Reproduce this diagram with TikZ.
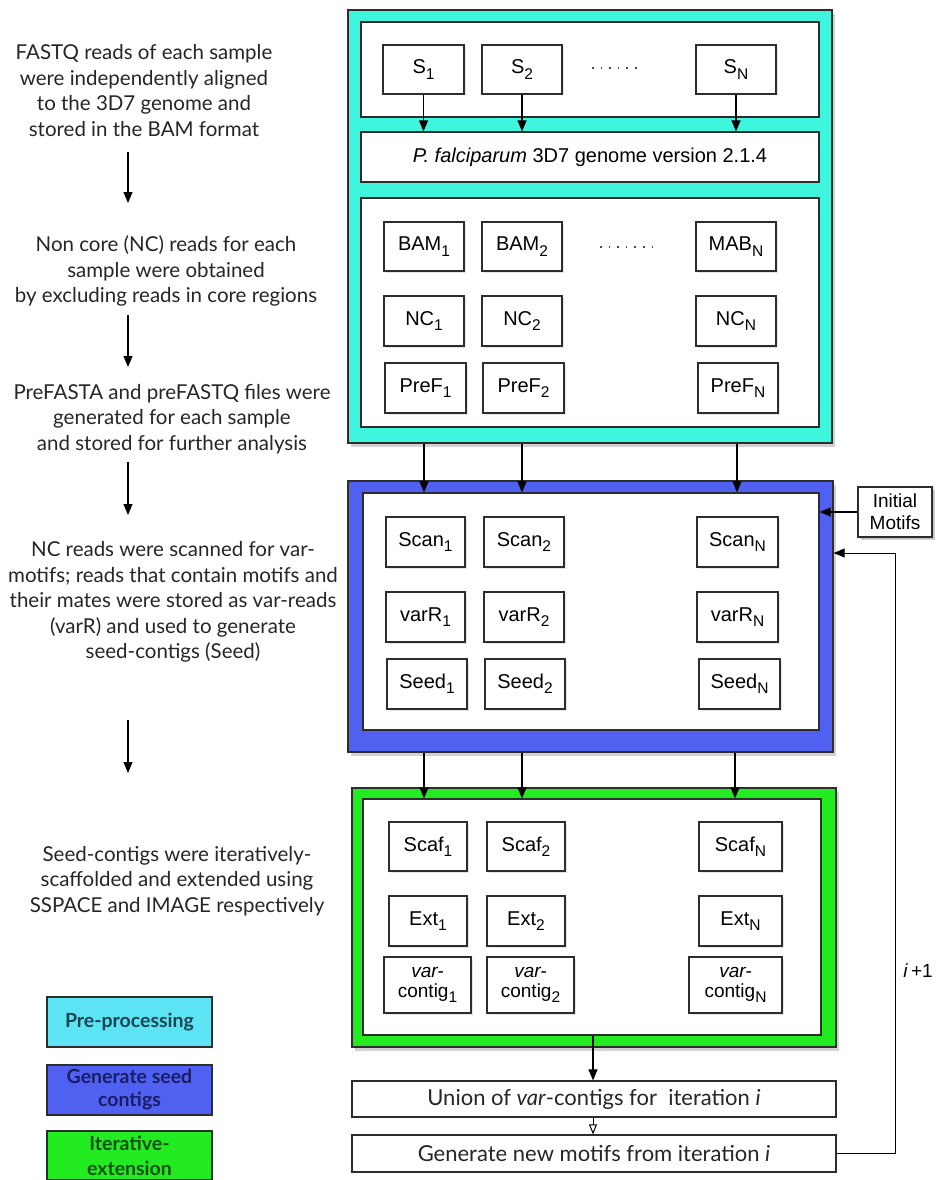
\documentclass[tikz,border=0pt]{standalone}
\usepackage{fontspec}
\setmainfont{Liberation Sans}
\newfontfamily\gill{Lato}
\usetikzlibrary{arrows.meta,shadows}
\definecolor{cyanC}{RGB}{64,245,222}
\definecolor{blueC}{RGB}{80,96,240}
\definecolor{greenC}{RGB}{34,235,34}
\definecolor{legCyan}{RGB}{92,228,245}
\definecolor{legCyanT}{RGB}{25,70,80}
\definecolor{legBlueT}{RGB}{25,30,100}
\definecolor{legGreenT}{RGB}{20,80,20}
\definecolor{edge}{RGB}{45,45,45}
\newcommand\lsub[1]{\raisebox{-0.5ex}{\fontsize{15.5}{15}\selectfont #1}}
\begin{document}
\begin{tikzpicture}[x=1pt,y=-1pt,
  outer/.style={draw=edge, line width=1.3pt, inner sep=0pt,
    drop shadow={opacity=0.35, shadow xshift=3pt, shadow yshift=-4pt}},
  panel/.style={draw=edge, line width=1.3pt, fill=white, inner sep=0pt},
  sbox/.style={draw=edge, line width=1.2pt, fill=white, inner sep=0pt, align=center,
    font=\fontsize{20}{21}\selectfont,
    drop shadow={opacity=0.2, shadow xshift=1.5pt, shadow yshift=-1.5pt}},
  wide/.style={draw=edge, line width=1.2pt, fill=white, inner sep=0pt,
    minimum width=484, font=\gill\fontsize{22}{22}\selectfont, text=black!85},
  side/.style={align=center, font=\gill\fontsize{20.5}{25.5}\selectfont, text=black!85},
  legend/.style={draw=edge, line width=1.2pt, inner sep=0pt, minimum width=165,
    align=center, font=\gill\bfseries\fontsize{19.5}{24}\selectfont},
  arr/.style={draw=black, line width=1.2pt, -{Triangle[length=11pt,width=9pt]}},
  oarr/.style={draw=black, line width=1pt, -{Triangle[open,length=10pt,width=8pt]}},
  dots/.style={draw=black!70, line width=1.6pt, dash pattern=on 1.6pt off 7pt}
]
\useasboundingbox (0,0) rectangle (936,1180);
\fill[white] (0,0) rectangle (936,1180);

% ---------------- left descriptions ----------------
\node[side] (t1) at (144,90.5) {FASTQ reads of each sample\\were independently aligned\\to the 3D7 genome and\\stored in the BAM format};
\node[side] (t2) at (166,271) {Non core (NC) reads for each\\sample were obtained\\by excluding reads in core regions};
\node[side] (t3) at (172,419) {PreFASTA and preFASTQ files were\\generated for each sample\\and stored for further analysis};
\node[side] (t4) at (173,602) {NC reads were scanned for var-\\motifs; reads that contain motifs and\\their mates were stored as var-reads\\(varR) and used to generate\\seed-contigs (Seed)};
\node[side] (t5) at (177,881) {Seed-contigs were iteratively-\\scaffolded and extended using\\SSPACE and IMAGE respectively};

\coordinate (l1a) at (128,152); \coordinate (l1b) at (128,203);
\coordinate (l2a) at (128,315); \coordinate (l2b) at (128,367);
\coordinate (l3a) at (128,462); \coordinate (l3b) at (128,515);
\coordinate (l4a) at (128,720); \coordinate (l4b) at (128,773);
\draw[arr] (l1a) -- (l1b);
\draw[arr] (l2a) -- (l2b);
\draw[arr] (l3a) -- (l3b);
\draw[arr] (l4a) -- (l4b);

% ---------------- legend ----------------
\node[legend, fill=legCyan, minimum height=50, text=legCyanT] (lg1) at (129.5,1022) {Pre-processing};
\node[legend, fill=blueC, minimum height=50, text=legBlueT, font=\gill\bfseries\fontsize{19.5}{23}\selectfont] (lg2) at (129.5,1090) {Generate seed\\contigs};
\node[legend, fill=greenC, minimum height=49, text=legGreenT, font=\gill\bfseries\fontsize{19.5}{25}\selectfont] (lg3) at (129.5,1155.5) {Iterative-\\extension};

% ---------------- pre-processing (cyan) ----------------
\node[outer, fill=cyanC, minimum width=484, minimum height=433] (cyan) at (590,226.5) {};
\node[panel, minimum width=458, minimum height=95] (top) at (590,69.5) {};
\node[panel, minimum width=458, minimum height=50, font=\fontsize{20}{20}\selectfont] (genome) at (590,157) {\textit{P. falciparum} 3D7 genome version 2.1.4};
\node[panel, minimum width=458, minimum height=229] (low) at (590,312.5) {};

\node[sbox, minimum width=81, minimum height=49] (s1) at (423.5,69.5) {S\lsub{1}};
\node[sbox, minimum width=80, minimum height=49] (s2) at (522,69.5) {S\lsub{2}};
\node[sbox, minimum width=80, minimum height=49] (sN) at (736,69.5) {S\lsub{N}};
\coordinate (d1a) at (592,68); \coordinate (d1b) at (642,68);
\draw[dots] (d1a) -- (d1b);
\draw[arr] (s1.south) -- (s1.south |- genome.north);
\draw[arr] (s2.south) -- (s2.south |- genome.north);
\draw[arr] (sN.south) -- (sN.south |- genome.north);

\node[sbox, minimum width=80, minimum height=49] (bam1) at (424,246.5) {BAM\lsub{1}};
\node[sbox, minimum width=80, minimum height=49] (bam2) at (522,246.5) {BAM\lsub{2}};
\node[sbox, minimum width=80, minimum height=49] (bamN) at (736,246.5) {MAB\lsub{N}};
\coordinate (d2a) at (600,247); \coordinate (d2b) at (652,247);
\draw[dots] (d2a) -- (d2b);

\node[sbox, minimum width=80, minimum height=50] (nc1) at (424,321) {NC\lsub{1}};
\node[sbox, minimum width=80, minimum height=50] (nc2) at (522,321) {NC\lsub{2}};
\node[sbox, minimum width=80, minimum height=50] (ncN) at (736,321) {NC\lsub{N}};

\node[sbox, minimum width=81, minimum height=50] (pf1) at (425.5,388) {PreF\lsub{1}};
\node[sbox, minimum width=81, minimum height=50] (pf2) at (523.5,388) {PreF\lsub{2}};
\node[sbox, minimum width=80, minimum height=50] (pfN) at (738,388) {PreF\lsub{N}};

% ---------------- seed contigs (blue) ----------------
\node[outer, fill=blueC, minimum width=485, minimum height=271] (blue) at (590.5,616.5) {};
\node[panel, minimum width=456, minimum height=237] (blueIn) at (591,611.5) {};

\node[sbox, minimum width=79, minimum height=50] (sc1) at (425.5,542) {Scan\lsub{1}};
\node[sbox, minimum width=80, minimum height=50] (sc2) at (524,542) {Scan\lsub{2}};
\node[sbox, minimum width=81, minimum height=50] (scN) at (737.5,542) {Scan\lsub{N}};

\node[sbox, minimum width=79, minimum height=50] (vr1) at (425.5,617) {varR\lsub{1}};
\node[sbox, minimum width=80, minimum height=50] (vr2) at (524,617) {varR\lsub{2}};
\node[sbox, minimum width=81, minimum height=50] (vrN) at (737.5,617) {varR\lsub{N}};

\node[sbox, minimum width=80, minimum height=50] (sd1) at (427,684) {Seed\lsub{1}};
\node[sbox, minimum width=80, minimum height=50] (sd2) at (525,684) {Seed\lsub{2}};
\node[sbox, minimum width=81, minimum height=50] (sdN) at (739.5,684) {Seed\lsub{N}};

\coordinate (c1) at (424,0); \coordinate (c2) at (522,0); \coordinate (c3) at (737,0);
\draw[arr] (c1 |- cyan.south) -- (c1 |- blueIn.north);
\draw[arr] (c2 |- cyan.south) -- (c2 |- blueIn.north);
\draw[arr] (c3 |- cyan.south) -- (c3 |- blueIn.north);

\node[sbox, minimum width=74, minimum height=50, font=\fontsize{19}{22}\selectfont,
  drop shadow={opacity=0.35, shadow xshift=3pt, shadow yshift=-3pt}] (im) at (895,512) {Initial\\Motifs};
\draw[arr] (im.west) -- (im.west -| blueIn.east);

% ---------------- iterative extension (green) ----------------
\node[outer, fill=greenC, minimum width=484, minimum height=259] (green) at (594,917.5) {};
\node[panel, minimum width=458, minimum height=236] (greenIn) at (592,917) {};

\node[sbox, minimum width=78, minimum height=49] (sf1) at (428,846.5) {Scaf\lsub{1}};
\node[sbox, minimum width=78, minimum height=49] (sf2) at (526,846.5) {Scaf\lsub{2}};
\node[sbox, minimum width=83, minimum height=49] (sfN) at (740.5,846.5) {Scaf\lsub{N}};

\node[sbox, minimum width=78, minimum height=50] (ex1) at (428,921) {Ext\lsub{1}};
\node[sbox, minimum width=78, minimum height=50] (ex2) at (526,921) {Ext\lsub{2}};
\node[sbox, minimum width=83, minimum height=50] (exN) at (740.5,921) {Ext\lsub{N}};

\node[sbox, minimum width=87, minimum height=56, font=\fontsize{19}{20}\selectfont] (vc1) at (427.5,985) {\textit{var-}\\contig\lsub{1}};
\node[sbox, minimum width=87, minimum height=56, font=\fontsize{19}{20}\selectfont] (vc2) at (530.5,985) {\textit{var-}\\contig\lsub{2}};
\node[sbox, minimum width=93, minimum height=56, font=\fontsize{19}{20}\selectfont] (vcN) at (735.5,985) {\textit{var-}\\contig\lsub{N}};

\coordinate (e1) at (424,0); \coordinate (e2) at (522,0); \coordinate (e3) at (735,0);
\draw[arr] (e1 |- blue.south) -- (e1 |- greenIn.north);
\draw[arr] (e2 |- blue.south) -- (e2 |- greenIn.north);
\draw[arr] (e3 |- blue.south) -- (e3 |- greenIn.north);

% ---------------- union / new motifs ----------------
\node[wide, minimum height=36] (union) at (594,1099) {Union of \textit{var}-contigs for \ iteration \textit{i}};
\node[wide, minimum height=37] (gnew) at (594,1153.5) {Generate new motifs from iteration \textit{i}};
\coordinate (u1) at (593,0);
\draw[arr] (u1 |- greenIn.south) -- (u1 |- union.north);
\draw[oarr] (u1 |- union.south) -- (u1 |- gnew.north);

\coordinate (loopx) at (895,553);
\draw[arr, line width=1pt] (gnew.east) -| (loopx) -- (loopx -| blue.east);
\node[font=\fontsize{19}{20}\selectfont] (iplus) at (918,971) {\textit{i}\,+1};
\end{tikzpicture}
\end{document}
